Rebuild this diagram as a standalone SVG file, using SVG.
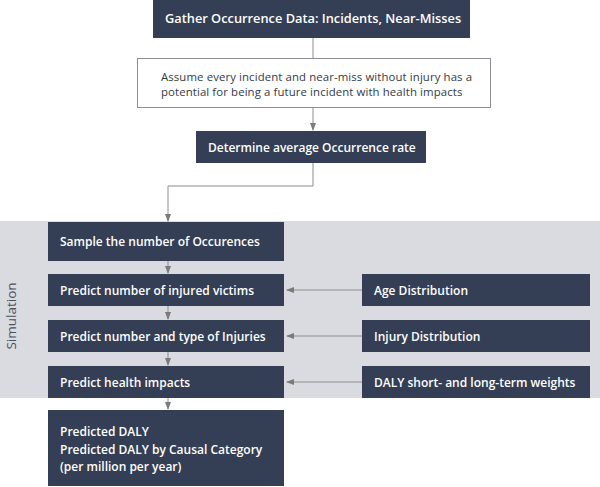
<svg xmlns="http://www.w3.org/2000/svg" width="600" height="487" viewBox="0 0 600 487">
<style>
.box{fill:#343e55}
.wbox{fill:#ffffff;stroke:#8c8f96;stroke-width:1}
.t{font-family:"Open Sans","Liberation Sans",sans-serif;font-size:12px;font-weight:600;fill:#ffffff}
.d{font-family:"Open Sans","Liberation Sans",sans-serif;font-size:11.4px;letter-spacing:0.1px;fill:#333a48}
.c{fill:none;stroke:#8c8c8c;stroke-width:1}
</style>
<defs>
<marker id="ah" viewBox="0 0 8 8" refX="7" refY="4" markerWidth="8" markerHeight="8" orient="auto" markerUnits="userSpaceOnUse">
<path d="M0,1 L8,4 L0,7 Z" fill="#7a7a7a"/>
</marker>
</defs>
<rect id="simbg" x="0" y="221" width="600" height="177" fill="#d9dbe0"/>
<text x="16" y="316" transform="rotate(-90 16 316)" text-anchor="middle" font-family="'Open Sans','Liberation Sans',sans-serif" font-size="13.5" fill="#4a5060">Simulation</text>
<g id="connectors">
<path class="c" d="M313,38 V58"/>
<path class="c" d="M313,107 V130" marker-end="url(#ah)"/>
<path class="c" d="M313,163 V186 H168 V221" marker-end="url(#ah)"/>
<path class="c" d="M168,261 V273" marker-end="url(#ah)"/>
<path class="c" d="M168,306 V319" marker-end="url(#ah)"/>
<path class="c" d="M168,352 V365" marker-end="url(#ah)"/>
<path class="c" d="M168,398 V409" marker-end="url(#ah)"/>
<path class="c" d="M362,290 H287" marker-end="url(#ah)"/>
<path class="c" d="M362,336 H287" marker-end="url(#ah)"/>
<path class="c" d="M362,382 H287" marker-end="url(#ah)"/>
</g>
<g id="gather"><rect class="box" x="153" y="0" width="317" height="38"/><text class="t" x="165" y="23" style="font-size:12.8px">Gather Occurrence Data: Incidents, Near-Misses</text></g>
<g id="assume"><rect class="wbox" x="137.5" y="58.5" width="353" height="49"/><text class="d" x="161" y="81">Assume every incident and near-miss without injury has a</text><text class="d" x="161" y="96">potential for being a future incident with health impacts</text></g>
<g id="determine"><rect class="box" x="196" y="131" width="230" height="32"/><text class="t" x="208" y="152">Determine average Occurrence rate</text></g>
<g id="sample"><rect class="box" x="48" y="222" width="236" height="39"/><text class="t" x="60" y="246">Sample the number of Occurences</text></g>
<g id="victims"><rect class="box" x="48" y="274" width="236" height="32"/><text class="t" x="60" y="295">Predict number of injured victims</text></g>
<g id="injuries"><rect class="box" x="48" y="320" width="236" height="32"/><text class="t" x="60" y="341">Predict number and type of Injuries</text></g>
<g id="health"><rect class="box" x="48" y="366" width="236" height="32"/><text class="t" x="60" y="387">Predict health impacts</text></g>
<g id="result"><rect class="box" x="48" y="410" width="236" height="76"/><text class="t" x="60" y="436">Predicted DALY</text><text class="t" x="60" y="454">Predicted DALY by Causal Category</text><text class="t" x="60" y="471">(per million per year)</text></g>
<g id="age"><rect class="box" x="362" y="274" width="228" height="32"/><text class="t" x="374" y="295">Age Distribution</text></g>
<g id="injdist"><rect class="box" x="362" y="320" width="228" height="32"/><text class="t" x="374" y="341">Injury Distribution</text></g>
<g id="daly"><rect class="box" x="362" y="366" width="228" height="32"/><text class="t" x="374" y="387">DALY short- and long-term weights</text></g>
</svg>
